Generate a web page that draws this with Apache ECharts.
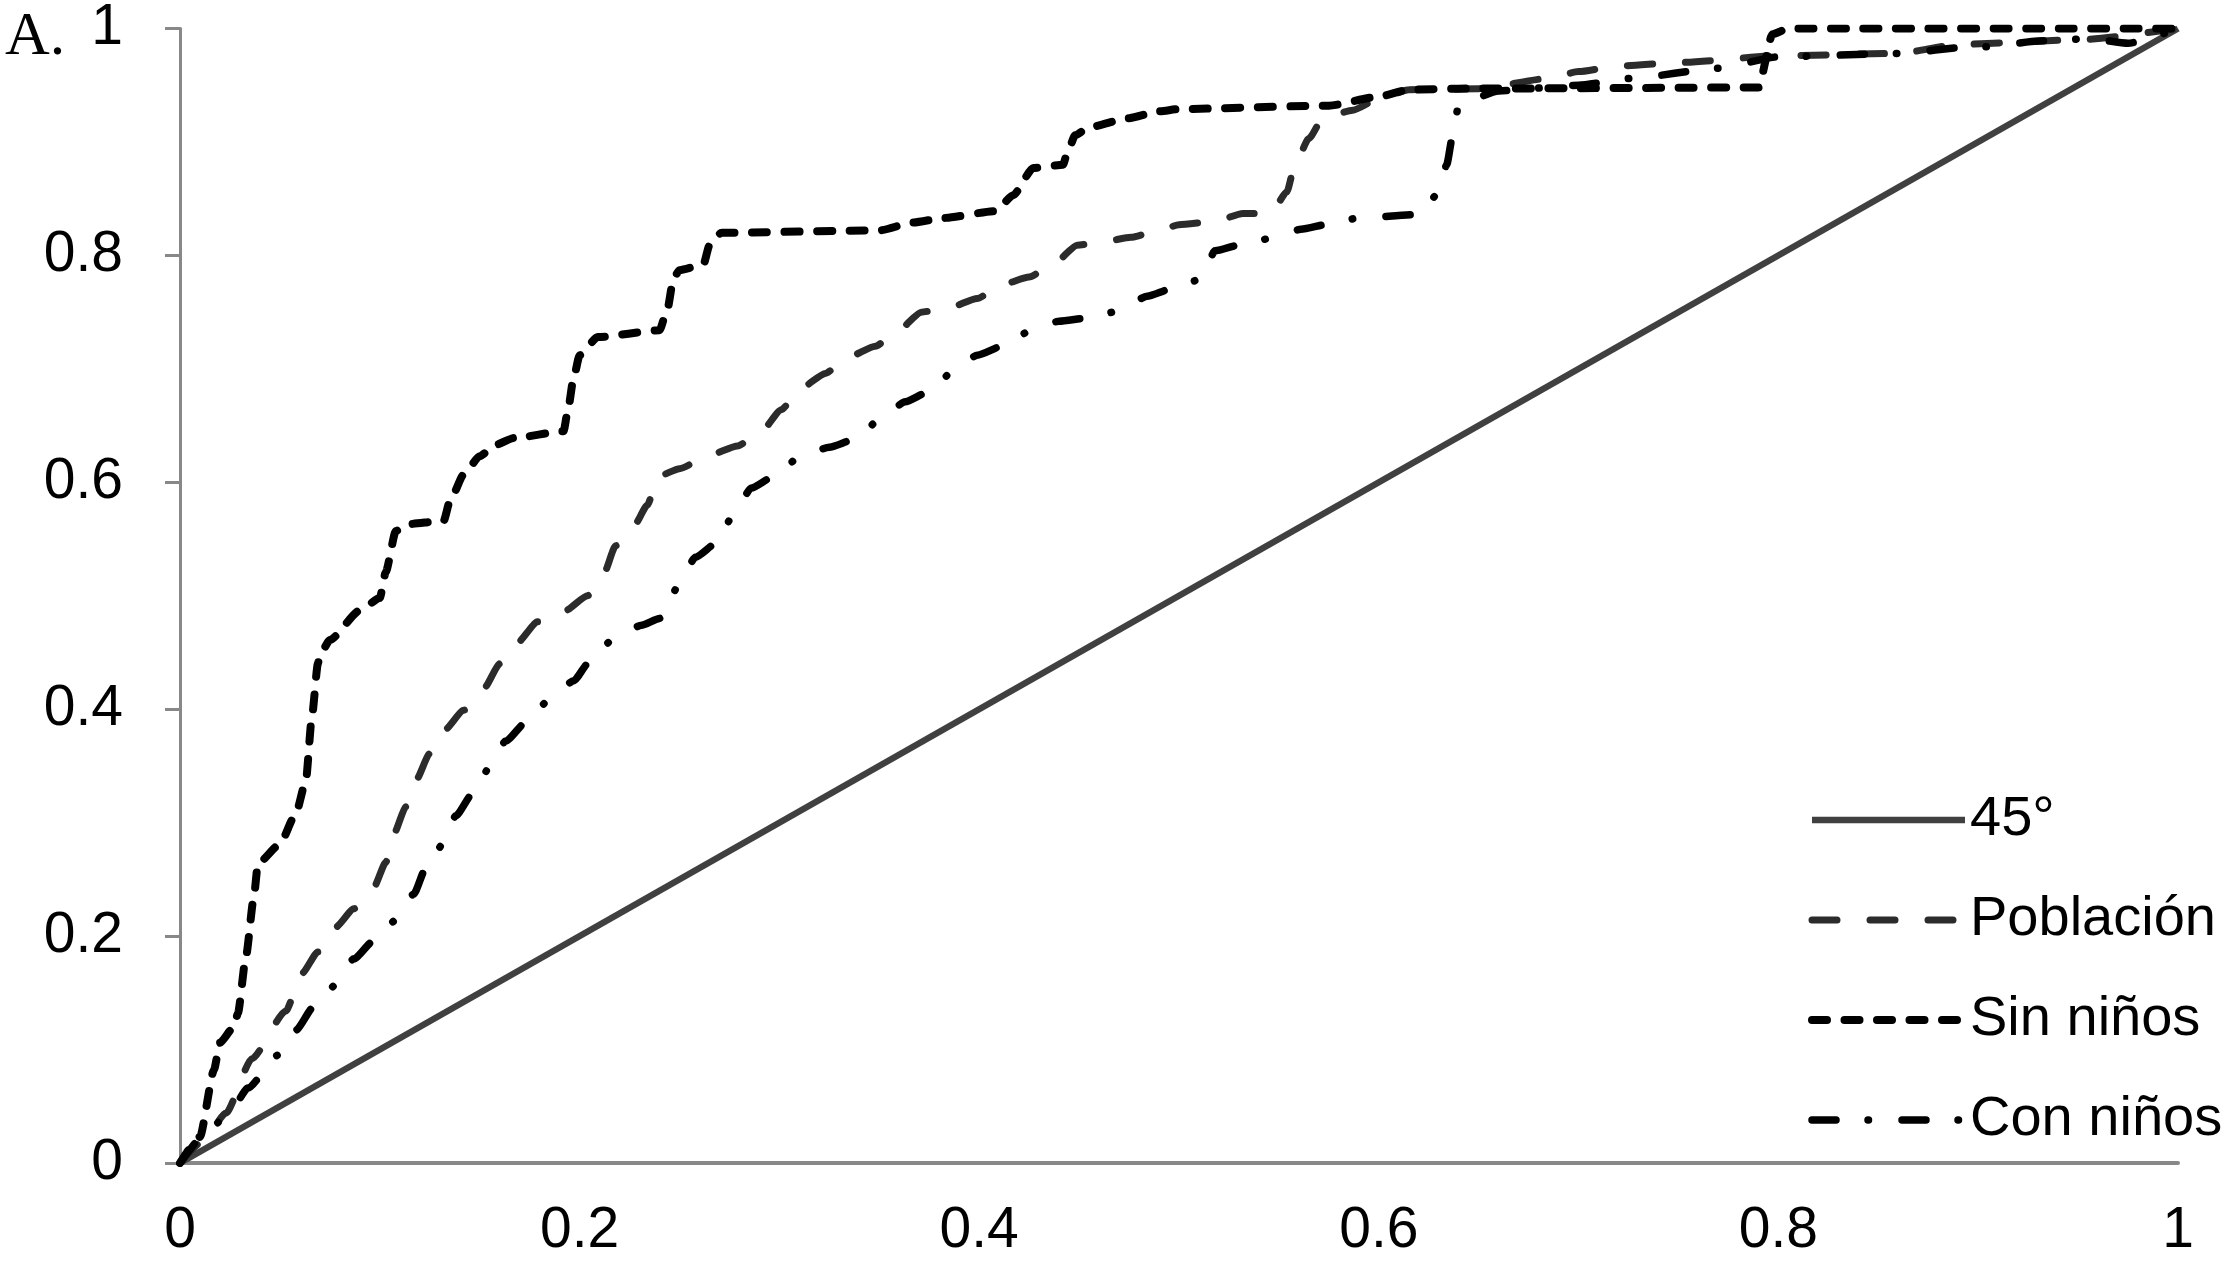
<!DOCTYPE html>
<html>
<head>
<meta charset="utf-8">
<script src="https://cdn.jsdelivr.net/npm/echarts@6/dist/echarts.min.js"></script>
<style>
html,body{margin:0;padding:0;background:#fff;}
#chart{width:2238px;height:1261px;}
</style>
</head>
<body>
<div id="chart"></div>
<script>
// Tick labels
const xTicks = [0, 0.2, 0.4, 0.6, 0.8, 1];
const yTicks = [0, 0.2, 0.4, 0.6, 0.8, 1];
const seriesNames = ['45°', 'Población', 'Sin niños', 'Con niños'];
const panelLabel = 'A.';

// Series values [x, y]
const diag45 = [[0, 0], [1, 1]];

const poblacion = [
  [0,0],[0.012,0.02],[0.023,0.044],[0.036,0.092],[0.053,0.134],[0.061,0.167],[0.069,0.186],
  [0.078,0.208],[0.087,0.224],[0.097,0.243],[0.103,0.265],[0.107,0.290],[0.113,0.314],
  [0.118,0.337],[0.125,0.361],[0.132,0.381],[0.142,0.399],[0.152,0.418],[0.160,0.440],
  [0.168,0.457],[0.179,0.477],[0.192,0.486],[0.204,0.500],[0.212,0.519],[0.218,0.544],
  [0.227,0.561],[0.234,0.580],[0.239,0.605],[0.250,0.612],[0.265,0.624],[0.279,0.632],
  [0.291,0.645],[0.301,0.664],[0.310,0.682],[0.323,0.696],[0.334,0.710],[0.348,0.720],
  [0.359,0.733],[0.371,0.750],[0.385,0.754],[0.399,0.762],[0.411,0.774],[0.425,0.781],
  [0.437,0.792],[0.449,0.809],[0.462,0.812],[0.476,0.816],[0.490,0.822],[0.500,0.827],
  [0.518,0.830],[0.532,0.837],[0.546,0.837],[0.554,0.856],[0.558,0.880],[0.565,0.903],
  [0.572,0.921],[0.587,0.928],[0.600,0.938],[0.615,0.946],[0.650,0.947],[0.685,0.956],
  [0.700,0.962],[0.720,0.967],[0.750,0.970],[0.800,0.976],[0.860,0.978],[0.890,0.986],
  [0.950,0.990],[1,1]
];

const sinNinos = [
  [0,0],[0.010,0.023],[0.017,0.082],[0.020,0.106],[0.027,0.120],[0.029,0.132],[0.033,0.182],
  [0.037,0.235],[0.039,0.264],[0.050,0.281],[0.058,0.308],[0.063,0.337],[0.066,0.393],
  [0.069,0.440],[0.070,0.448],[0.075,0.461],[0.090,0.487],[0.100,0.498],[0.103,0.521],
  [0.108,0.557],[0.113,0.563],[0.132,0.566],[0.135,0.583],[0.142,0.607],[0.150,0.623],
  [0.158,0.633],[0.167,0.639],[0.192,0.645],[0.194,0.662],[0.197,0.692],[0.200,0.712],
  [0.209,0.728],[0.240,0.734],[0.244,0.753],[0.247,0.780],[0.250,0.787],[0.262,0.792],
  [0.265,0.809],[0.271,0.820],[0.350,0.822],[0.367,0.829],[0.382,0.833],[0.408,0.839],
  [0.417,0.853],[0.427,0.877],[0.442,0.880],[0.444,0.890],[0.448,0.906],[0.455,0.913],
  [0.475,0.921],[0.490,0.927],[0.500,0.929],[0.575,0.932],[0.600,0.940],[0.615,0.946],
  [0.640,0.947],[0.790,0.948],[0.797,0.995],[0.805,1.000],[1,1]
];

const conNinos = [
  [0,0],[0.015,0.030],[0.025,0.045],[0.034,0.066],[0.049,0.095],[0.058,0.117],[0.067,0.138],
  [0.078,0.157],[0.087,0.180],[0.097,0.196],[0.108,0.214],[0.117,0.237],[0.123,0.260],
  [0.132,0.282],[0.138,0.306],[0.147,0.327],[0.155,0.349],[0.163,0.372],[0.174,0.390],
  [0.184,0.407],[0.197,0.425],[0.205,0.442],[0.217,0.462],[0.231,0.474],[0.240,0.480],
  [0.243,0.487],[0.249,0.508],[0.258,0.534],[0.269,0.547],[0.277,0.572],[0.286,0.595],
  [0.297,0.605],[0.310,0.622],[0.325,0.631],[0.338,0.638],[0.350,0.655],[0.363,0.671],
  [0.375,0.680],[0.387,0.698],[0.399,0.712],[0.413,0.721],[0.426,0.734],[0.440,0.742],
  [0.455,0.745],[0.470,0.751],[0.484,0.764],[0.497,0.771],[0.511,0.779],[0.518,0.804],
  [0.532,0.810],[0.546,0.815],[0.561,0.823],[0.576,0.828],[0.590,0.833],[0.620,0.836],
  [0.630,0.855],[0.634,0.880],[0.637,0.906],[0.640,0.933],[0.660,0.945],[0.700,0.950],
  [0.726,0.956],[0.770,0.965],[0.800,0.975],[0.860,0.978],[0.897,0.984],[0.906,0.984],
  [0.930,0.989],[0.956,0.991],[0.975,0.987],[1,1]
];

const FONT = 'Liberation Sans';
const chart = echarts.init(document.getElementById('chart'), null, {renderer: 'canvas'});

const axisLabelFmt = v => {
  const t = yTicks.concat(xTicks).find(k => Math.abs(k - v) < 1e-9);
  return String(t !== undefined ? t : v);
};

const styles = [
  {color: '#404040', width: 6.5, type: 'solid', cap: 'butt'},
  {color: '#2b2b2b', width: 7, type: [25, 33], cap: 'round'},
  {color: '#000000', width: 8, type: [15, 17.5], cap: 'round'},
  {color: '#000000', width: 7.5, type: [24, 32, 0.5, 33.5], cap: 'round'}
];
const seriesData = [diag45, poblacion, sinNinos, conNinos];

chart.setOption({
  animation: false,
  backgroundColor: '#ffffff',
  color: styles.map(s => s.color),
  title: {
    text: panelLabel,
    left: 0,
    top: 2,
    textStyle: {fontFamily: 'Liberation Serif', fontSize: 62, fontWeight: 'normal', color: '#000'}
  },
  grid: {left: 180, right: 60, top: 26, bottom: 98, containLabel: false},
  legend: {
    data: seriesNames.map((n, i) => ({
      name: n,
      itemStyle: {opacity: 0, color: 'rgba(0,0,0,0)', borderWidth: 0},
      lineStyle: {width: styles[i].width, color: styles[i].color, type: styles[i].type, cap: styles[i].cap, opacity: 1}
    })),
    orient: 'vertical',
    left: 1803,
    top: 785,
    itemWidth: 153,
    itemHeight: 20,
    itemGap: 40,
    textStyle: {fontFamily: FONT, fontSize: 56, color: '#000', lineHeight: 60}
  },
  xAxis: {
    type: 'value', min: 0, max: 1, interval: 0.2,
    axisLine: {show: true, onZero: false, lineStyle: {color: '#888888', width: 4}},
    axisTick: {show: false},
    splitLine: {show: false},
    axisLabel: {fontFamily: FONT, fontSize: 57, color: '#000', margin: 40, formatter: axisLabelFmt}
  },
  yAxis: {
    type: 'value', min: 0, max: 1, interval: 0.2,
    axisLine: {show: true, onZero: false, lineStyle: {color: '#888888', width: 3}},
    axisTick: {show: true, length: 15, lineStyle: {color: '#888888', width: 3}},
    splitLine: {show: false},
    axisLabel: {fontFamily: FONT, fontSize: 57, color: '#000', margin: 57, formatter: axisLabelFmt}
  },
  series: seriesNames.map((n, i) => ({
    name: n, type: 'line', data: seriesData[i], symbol: 'none',
    smooth: i === 0 ? false : 0.2, smoothMonotone: 'x',
    itemStyle: {color: styles[i].color},
    lineStyle: styles[i]
  }))
});
</script>
</body>
</html>
